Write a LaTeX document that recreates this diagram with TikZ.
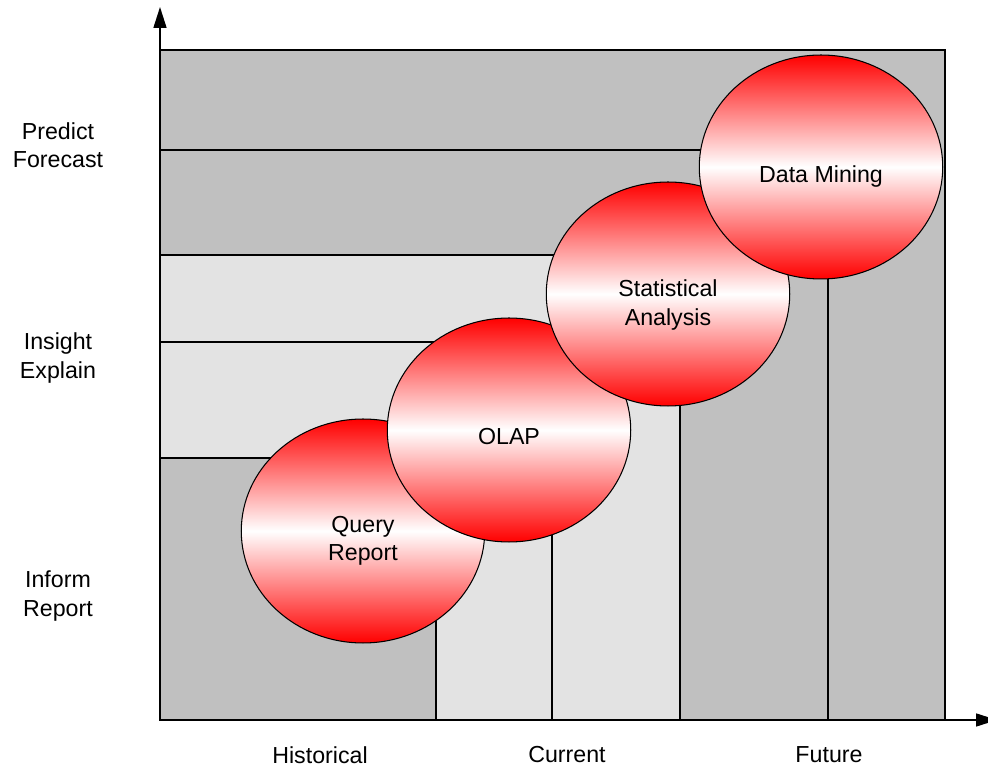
\documentclass[tikz,border=0pt]{standalone}
\usepackage{fontspec}
\setmainfont{Liberation Sans}
\usetikzlibrary{shapes.geometric,arrows.meta,calc}
\definecolor{darkband}{HTML}{C0C0C0}
\definecolor{lightband}{HTML}{E3E3E3}

\begin{document}
\begin{tikzpicture}[x=0.02cm,y=-0.02cm,
	every node/.style={font=\fontsize{13.2}{16.2}\selectfont,align=center,inner sep=0pt},
	band/.style={draw=black,line width=0.6pt},
	bubble/.style={ellipse,draw=black,line width=0.6pt,minimum width=4.87cm,minimum height=4.48cm,
		top color=red,bottom color=red,middle color=white},
	axis/.style={line width=0.9pt,-{Triangle[length=0.42cm,width=0.26cm]}}]

	\useasboundingbox (0,0) rectangle (988,766);

	% nested bands, biggest first
	\filldraw[band,fill=darkband]  (160,50)  rectangle (945,720);
	\filldraw[band,fill=darkband]  (160,150) rectangle (828,720);
	\filldraw[band,fill=lightband] (160,255) rectangle (680,720);
	\filldraw[band,fill=lightband] (160,342) rectangle (552,720);
	\filldraw[band,fill=darkband]  (160,458) rectangle (436,720);

	\coordinate (origin) at (160,720);
	\coordinate (ytip) at (160,7);
	\coordinate (xtip) at (997,720);
	\draw[axis] (origin) -- (ytip);
	\draw[axis] (origin) -- (xtip);

	% levels
	\node (predict) at (58,145) {Predict\\Forecast};
	\node (insight) at (58,358) {Insight\\Explain};
	\node (inform)  at (58,596) {Inform\\Report};

	% time
	\node (historical) at (320,755) {Historical};
	\node (current)    at (567,755) {Current};
	\node (future)     at (829,755) {Future};

	% tools, each one over the last
	\node[bubble] (query) at (363,531) {};
	\node (querytext) at ($(query)+(0,10)$) {Query\\Report};

	\node[bubble] (olap) at (509,430) {};
	\node (olaptext) at ($(olap)+(0,7)$) {OLAP};

	\node[bubble] (stats) at (668,294) {};
	\node (statstext) at ($(stats)+(0,11)$) {Statistical\\Analysis};

	\node[bubble] (mining) at (821,167) {};
	\node (miningtext) at ($(mining)+(0,10)$) {Data Mining};

\end{tikzpicture}
\end{document}
